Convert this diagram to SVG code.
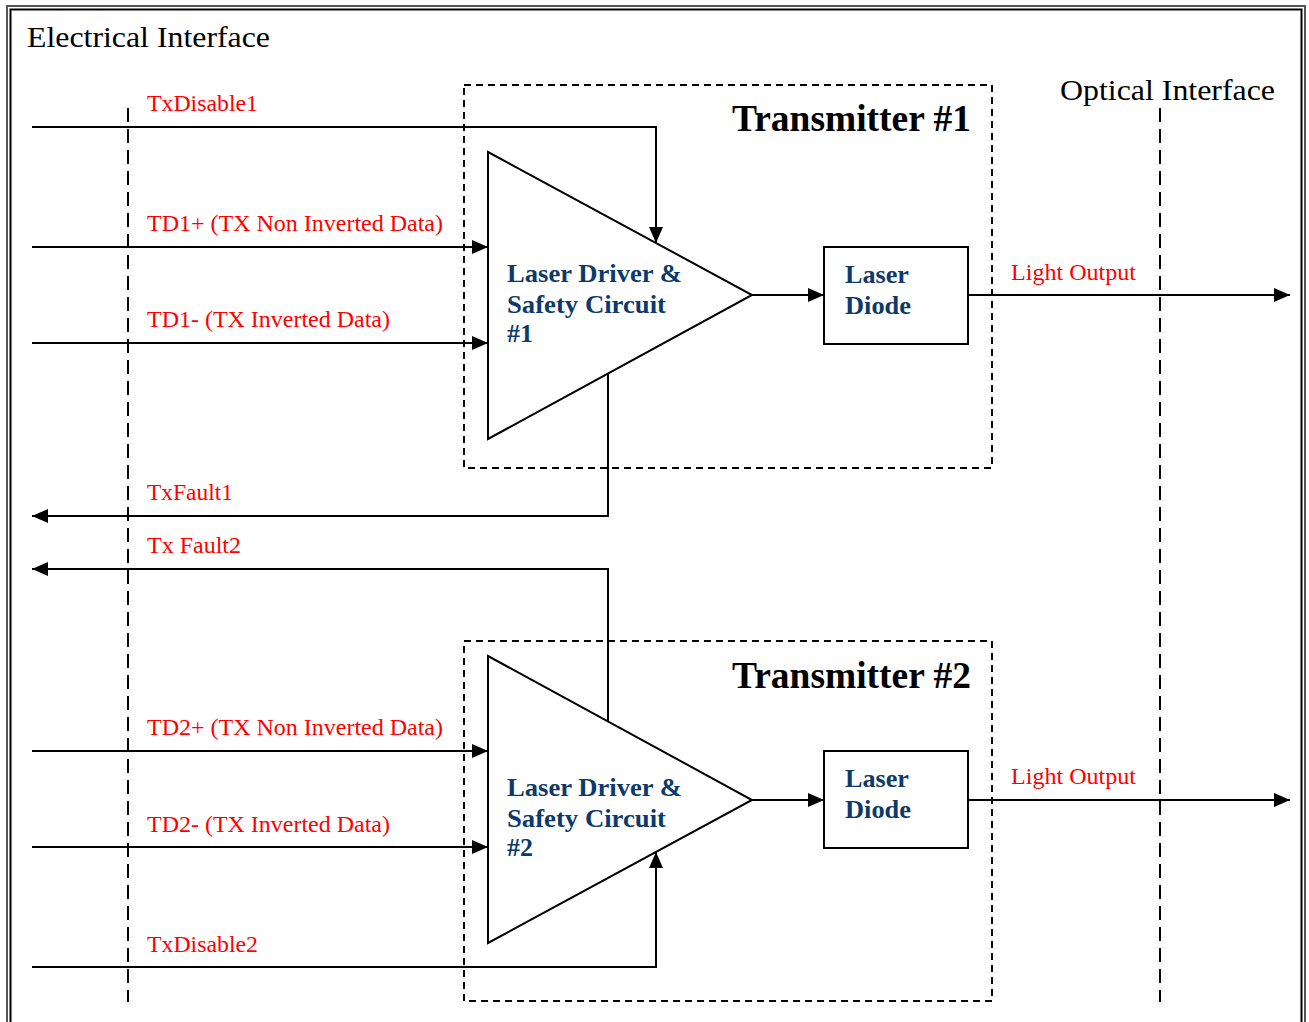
<svg xmlns="http://www.w3.org/2000/svg" width="1309" height="1022" viewBox="0 0 1309 1022">
<style>
.ln{fill:none;stroke:#000;stroke-width:2}
.dash{fill:none;stroke:#000;stroke-width:2;stroke-dasharray:7,5}
.vdash{fill:none;stroke:#000;stroke-width:2;stroke-dasharray:14,7}
.shape{fill:#fff;stroke:#000;stroke-width:2}
text{font-family:"Liberation Serif",serif}
.lbl{font-size:22.5px;fill:#ff0000}
.title{font-size:30px;fill:#000}
.tx{font-size:37px;font-weight:bold;fill:#000}
.blk{font-size:26px;font-weight:bold;fill:#0e3a6b}
</style>
<defs>
<marker id="arr" markerUnits="userSpaceOnUse" markerWidth="16" markerHeight="16" viewBox="0 0 16 16" refX="16" refY="8" orient="auto">
<path d="M0,1 L16,8 L0,15 Z" fill="#000"/>
</marker>
</defs>
<rect width="1309" height="1022" fill="#fff"/>
<g id="frame">
<path d="M7,1030 V6 H1305 V1030" fill="none" stroke="#555" stroke-width="2"/>
<path d="M10.5,1030 V9.5 H1301.5 V1030" fill="none" stroke="#000" stroke-width="2"/>
</g>
<g id="interfaces">
<line class="vdash" x1="128" y1="108" x2="128" y2="1002"/>
<line class="vdash" x1="1160" y1="108" x2="1160" y2="1002"/>
<text class="title" x="27" y="47" textLength="243" lengthAdjust="spacingAndGlyphs">Electrical Interface</text>
<text class="title" x="1060" y="100" textLength="215" lengthAdjust="spacingAndGlyphs">Optical Interface</text>
</g>
<g id="transmitter1">
<rect class="dash" x="464" y="85" width="528" height="383"/>
<text class="tx" x="732" y="131" textLength="239" lengthAdjust="spacingAndGlyphs">Transmitter #1</text>
</g>
<g id="transmitter2">
<rect class="dash" x="464" y="641" width="528" height="360"/>
<text class="tx" x="732" y="688" textLength="239" lengthAdjust="spacingAndGlyphs">Transmitter #2</text>
</g>
<g id="driver1">
<polygon class="shape" points="488,152 488,439 752,295"/>
<text class="blk" x="507" y="282" textLength="175" lengthAdjust="spacingAndGlyphs">Laser Driver &amp;</text>
<text class="blk" x="507" y="313" textLength="159" lengthAdjust="spacingAndGlyphs">Safety Circuit</text>
<text class="blk" x="507" y="342" textLength="26" lengthAdjust="spacingAndGlyphs">#1</text>
</g>
<g id="driver2">
<polygon class="shape" points="488,656 488,943 752,800"/>
<text class="blk" x="507" y="796" textLength="175" lengthAdjust="spacingAndGlyphs">Laser Driver &amp;</text>
<text class="blk" x="507" y="827" textLength="159" lengthAdjust="spacingAndGlyphs">Safety Circuit</text>
<text class="blk" x="507" y="856" textLength="26" lengthAdjust="spacingAndGlyphs">#2</text>
</g>
<g id="diode1">
<rect class="shape" x="824" y="247" width="144" height="97"/>
<text class="blk" x="845" y="283" textLength="64" lengthAdjust="spacingAndGlyphs">Laser</text>
<text class="blk" x="845" y="314" textLength="66" lengthAdjust="spacingAndGlyphs">Diode</text>
</g>
<g id="diode2">
<rect class="shape" x="824" y="751" width="144" height="97"/>
<text class="blk" x="845" y="787" textLength="64" lengthAdjust="spacingAndGlyphs">Laser</text>
<text class="blk" x="845" y="818" textLength="66" lengthAdjust="spacingAndGlyphs">Diode</text>
</g>
<g id="connectors">
<path class="ln" d="M32,127 H656 V243" marker-end="url(#arr)"/>
<path class="ln" d="M32,247 H488" marker-end="url(#arr)"/>
<path class="ln" d="M32,343 H488" marker-end="url(#arr)"/>
<path class="ln" d="M752,295 H824" marker-end="url(#arr)"/>
<path class="ln" d="M968,295 H1290" marker-end="url(#arr)"/>
<path class="ln" d="M608,374 V516 H32" marker-end="url(#arr)"/>
<path class="ln" d="M608,721 V569 H32" marker-end="url(#arr)"/>
<path class="ln" d="M32,751 H488" marker-end="url(#arr)"/>
<path class="ln" d="M32,847 H488" marker-end="url(#arr)"/>
<path class="ln" d="M32,967 H656 V852" marker-end="url(#arr)"/>
<path class="ln" d="M752,800 H824" marker-end="url(#arr)"/>
<path class="ln" d="M968,800 H1290" marker-end="url(#arr)"/>
</g>
<g id="labels">
<text class="lbl" x="147" y="111" textLength="111" lengthAdjust="spacingAndGlyphs">TxDisable1</text>
<text class="lbl" x="147" y="231" textLength="296" lengthAdjust="spacingAndGlyphs">TD1+ (TX Non Inverted Data)</text>
<text class="lbl" x="147" y="327" textLength="243" lengthAdjust="spacingAndGlyphs">TD1- (TX Inverted Data)</text>
<text class="lbl" x="147" y="500" textLength="86" lengthAdjust="spacingAndGlyphs">TxFault1</text>
<text class="lbl" x="147" y="553" textLength="94" lengthAdjust="spacingAndGlyphs">Tx Fault2</text>
<text class="lbl" x="147" y="735" textLength="296" lengthAdjust="spacingAndGlyphs">TD2+ (TX Non Inverted Data)</text>
<text class="lbl" x="147" y="832" textLength="243" lengthAdjust="spacingAndGlyphs">TD2- (TX Inverted Data)</text>
<text class="lbl" x="147" y="952" textLength="111" lengthAdjust="spacingAndGlyphs">TxDisable2</text>
<text class="lbl" x="1011" y="280" textLength="125" lengthAdjust="spacingAndGlyphs">Light Output</text>
<text class="lbl" x="1011" y="784" textLength="125" lengthAdjust="spacingAndGlyphs">Light Output</text>
</g>
</svg>
